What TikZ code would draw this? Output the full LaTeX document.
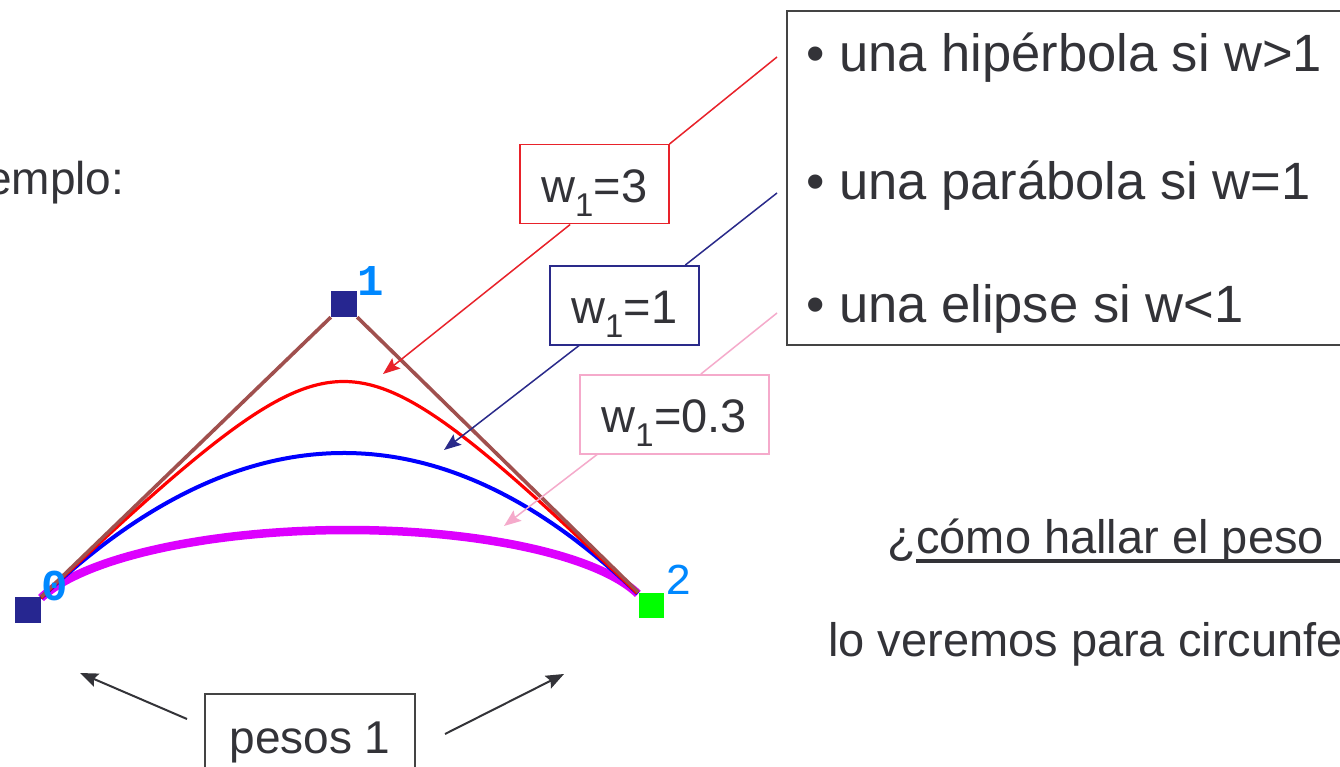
\documentclass[tikz,border=0pt]{standalone}
\usepackage{fontspec}
\setmainfont{Liberation Sans}
\newfontfamily\digitfont{Liberation Mono}
\usetikzlibrary{arrows.meta,calc}
\definecolor{navysq}{HTML}{262690}
\definecolor{brownl}{HTML}{A0504E}
\definecolor{redc}{HTML}{FF0000}
\definecolor{bluec}{HTML}{0000FF}
\definecolor{magc}{HTML}{DD00FF}
\definecolor{digitblue}{HTML}{0088FF}
\definecolor{annred}{HTML}{E8222A}
\definecolor{annnavy}{HTML}{2A2A8A}
\definecolor{annpink}{HTML}{F5AACB}
\definecolor{txt}{HTML}{333338}
\definecolor{boxgray}{HTML}{444444}
\newcommand\ratcurve[2]{%
  \draw[#2] plot[domain=0:1, samples=90, variable=\t]
  ({((1-\t)^2*41 + 2*#1*\t*(1-\t)*344 + \t^2*638)/((1-\t)^2 + 2*#1*\t*(1-\t) + \t^2)},
   {((1-\t)^2*598 + 2*#1*\t*(1-\t)*310 + \t^2*594)/((1-\t)^2 + 2*#1*\t*(1-\t) + \t^2)});}
\tikzset{
  sq/.style={fill=navysq, minimum size=26pt, inner sep=0pt, draw=none},
  digit/.style={text=digitblue, inner sep=0pt, font=\digitfont\fontsize{44}{44}\selectfont},
  big/.style={text=txt, inner sep=0pt, anchor=base west, font=\fontsize{52.5}{60}\selectfont},
  mid/.style={text=txt, inner sep=0pt, anchor=base west, font=\fontsize{47}{56}\selectfont},
  annbox/.style={draw=#1, line width=1.5pt, inner sep=0pt, text=txt, anchor=north west,
     text height=58pt, text depth=21pt, font=\fontsize{47}{56}\selectfont},
  annline/.style={draw=#1, line width=1.5pt},
  annarrow/.style={draw=#1, line width=1.5pt, -{Stealth[length=17pt,width=13pt,inset=3pt]}},
  grayarrow/.style={draw=txt, line width=2pt, -{Stealth[length=18pt,width=14pt,inset=3pt]}},
}
\begin{document}
\begin{tikzpicture}[x=1pt,y=-1pt]
\clip (0,0) rectangle (1340,767);
\fill[white] (0,0) rectangle (1340,767);

% left title fragment
\node[mid, font=\fontsize{46}{56}\selectfont] (ej) at (-14,195) {emplo:};

% curves
\ratcurve{0.3}{magc, line width=8.5pt}
\ratcurve{1}{bluec, line width=4pt}
\ratcurve{3}{redc, line width=3.2pt}

% control points
\node[sq] (p0) at (28,610) {};
\node[sq] (p1) at (344,304) {};
\node[sq, fill=green, minimum size=25pt] (p2) at (651,605) {};
\draw[brownl, line width=3.6pt] (p0.north east) -- (p1.south west);
\draw[brownl, line width=3.6pt] (p1.south east) -- (p2.north west);

\node[digit, font=\digitfont\bfseries\fontsize{44}{44}\selectfont] (d1) at (371,281) {1};
\node[digit, font=\digitfont\bfseries\fontsize{44}{44}\selectfont] (d0) at (55,586) {0};
\node[digit] (d2) at (679,580) {2};

% big box
\node[draw=boxgray, line width=2pt, anchor=north west, minimum width=620pt, minimum height=334pt, inner sep=0pt] (cases) at (786,10) {};
\node[big] (c1) at (806,72) {• una hipérbola si w>1};
\node[big] (c2) at (806,200) {• una parábola si w=1};
\node[big] (c3) at (806,322) {• una elipse si w<1};

% annotation boxes
\node[annbox=annred, minimum width=149pt] (wr) at (519,144) {w\textsubscript{1}=3};
\node[annbox=annnavy, minimum width=149pt] (wn) at (549,265) {w\textsubscript{1}=1};
\node[annbox=annpink, minimum width=189pt] (wp) at (579,374) {w\textsubscript{1}=0.3};

\coordinate (er) at (777,57);
\coordinate (en) at (777,193);
\coordinate (ep) at (777,313);
\coordinate (tr) at (383,374);
\coordinate (tn) at (444,450);
\coordinate (tp) at (504,526);

\draw[annline=annred] (wr.north east) -- (er);
\draw[annline=annnavy] ($(wn.north west)!0.906!(wn.north east)$) -- (en);
\draw[annline=annpink] ($(wp.north west)!0.64!(wp.north east)$) -- (ep);
\draw[annarrow=annred] ($(wr.south west)!0.34!(wr.south east)$) -- (tr);
\draw[annarrow=annnavy] ($(wn.south west)!0.2!(wn.south east)$) -- (tn);
\draw[annarrow=annpink] ($(wp.south west)!0.095!(wp.south east)$) -- (tp);

% pesos box
\node[draw=boxgray, line width=2pt, anchor=north west, inner sep=0pt, minimum width=210pt,
  text height=59pt, text depth=41pt, text=txt, font=\fontsize{46}{56}\selectfont] (pesos) at (204,693) {pesos 1};
\coordinate (al) at (80,673);
\coordinate (ar) at (564,674);
\draw[grayarrow] ($(pesos.north west)+(-17,26)$) -- (al);
\draw[grayarrow] ($(pesos.north east)+(29,41)$) -- (ar);

% bottom right texts
\node[mid] (q1) at (887,553) {¿};
\node[mid, anchor=base west] (q2) at (q1.base east) {cómo hallar el peso};
\draw[txt, line width=3.5pt] ($(q2.base west)+(0,8)$) -- ($(q2.base west)+(500,8)$);
\node[mid] (lo) at (828,656) {lo veremos para circunfe};
\end{tikzpicture}
\end{document}
